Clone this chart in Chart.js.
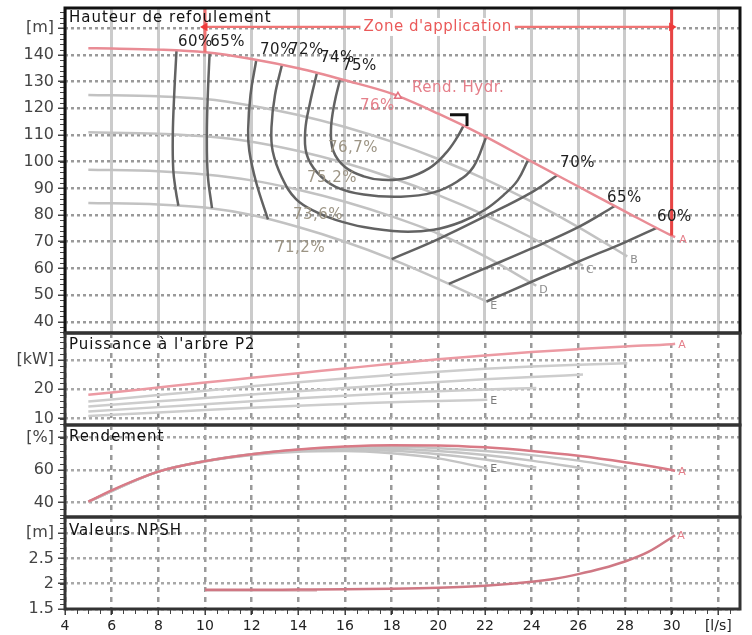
<!DOCTYPE html>
<html><head><meta charset="utf-8">
<script src="https://cdn.jsdelivr.net/npm/chart.js@4.4.0/dist/chart.umd.min.js"></script>
<style>
html,body{margin:0;padding:0;background:#fff;}
#wrap{position:relative;width:752px;height:635px;overflow:hidden;background:#fff;}
canvas{position:absolute;left:0;}
</style></head><body>
<div id="wrap">
<canvas id="c1" width="752" height="340" style="top:0px"></canvas>
<canvas id="c2" width="752" height="108" style="top:325px"></canvas>
<canvas id="c3" width="752" height="108" style="top:417px"></canvas>
<canvas id="c4" width="752" height="126" style="top:509px"></canvas>
</div>
<script>
// ---------- shared x axis (flow, l/s) ----------
const X_TICKS = [4,6,8,10,12,14,16,18,20,22,24,26,28,30,32];
const X_TICK_LABELS = ['4','6','8','10','12','14','16','18','20','22','24','26','28','30','[l/s]'];

// ---------- head curves (m) ----------
const Q_A = [5,6,8,10,12,14,16,18,20,22,24,26,28,30,30.15];
const H_A = [142.5,142.4,142,141,138.5,135,130.5,125.5,118,109.5,100,90.7,81.4,72.3,71.7];
const Q_B = [5,8,10,12,14,16,18,20,22,24,26,28.1];
const H_B = [125,124.5,123.5,121,117.5,113,107.5,101,93.5,85,75.5,64.5];
const Q_C = [5,8,10,12,14,16,18,20,22,24,26.2];
const H_C = [111,110.5,109.5,107.5,104,99.5,94,87.5,80,71.5,61];
const Q_D = [5,8,10,12,14,16,18,20,22,24.2];
const H_D = [97,96.4,95.2,93,89.5,85,79.5,73,64.5,53.5];
const Q_E = [5,8,10,12,14,16,18,20,22.1];
const H_E = [84.5,84,82.8,80,75.5,70,63.5,56,47.5];

// ---------- iso-efficiency curves ----------
const Q_ISO60_L = [8.78,8.68,8.62,8.64,8.75,8.86];
const H_ISO60_L = [141.8,125,110,97,89,83.5];
const Q_ISO60_R = [22.07,24,26,28,29.36];
const H_ISO60_R = [47.6,55,62.5,69.8,75.2];
const Q_ISO65_L = [10.2,10.12,10.08,10.12,10.3];
const H_ISO65_L = [141,125,110,95,82.6];
const Q_ISO65_R = [20.45,22,24,26,27.55];
const H_ISO65_R = [54.2,60,67.5,75.5,83.3];
const Q_ISO70_L = [12.2,11.95,11.85,11.9,12.2,12.7];
const H_ISO70_L = [138.2,125,112,104,92,78.4];
const Q_ISO70_R = [18,20,22,24,25.1];
const H_ISO70_R = [63.5,71,79.5,88.5,94.9];
const Q_ISO72 = [13.3,13.0,12.85,12.9,13.3,13.9,14.8,15.6,16.8,18.4,19.8,21,22,22.8,23.4,23.85];
const H_ISO72 = [136.3,125,113,104,94,86,81,78.2,75.5,73.8,74.5,77.5,82,87.5,93,100.7];
const Q_ISO74 = [14.8,14.5,14.3,14.35,14.8,15.6,16.8,18.4,19.8,20.8,21.5,22.05];
const H_ISO74 = [133.3,122,112,103,96,90.6,87.7,86.9,88.5,92.5,98,109.2];
const Q_ISO75 = [15.8,15.55,15.4,15.5,16,16.8,17.6,18.6,19.6,20.3,20.8,21.1];
const H_ISO75 = [131.2,122,112,104,98,94.5,93.2,93.8,97.5,103,109,113.8];

// duty point bracket, BEP, application zone
const Q_DUTY = [20.5,21.23,21.23];
const H_DUTY = [117.6,117.6,113.4];
const Q_BEP = [18.27];
const H_BEP = [124.5];
const Q_ZONE = [10,30];
const H_ZONE = [150.5,150.5];
const Q_ZONE_L = [10,10];
const H_ZONE_L = [157.6,141];
const Q_ZONE_R = [30,30];
const H_ZONE_R = [157.6,72.3];

// ---------- shaft power (kW) ----------
const P_A = [18.1,18.9,20.6,22.3,23.9,25.5,27.1,28.7,30.2,31.5,32.7,33.7,34.6,35.4,35.5];
const P_B = [15.8,18.0,19.5,21,22.4,23.7,24.9,26,27,27.8,28.4,28.9];
const P_C = [14.1,15.9,17,18.2,19.3,20.4,21.5,22.5,23.4,24.2,25];
const P_D = [12.4,13.9,14.9,15.9,16.9,17.8,18.6,19.3,19.9,20.4];
const P_E = [10.9,12.1,12.9,13.7,14.4,15,15.6,16,16.4];

// ---------- efficiency (%) ----------
const ETA_A = [40.5,47.5,59,65.5,69.8,72.7,74.5,75.3,75.2,74,71.8,68.8,64.8,60,59.5];
const ETA_B = [40.5,59,65.5,69.8,72.5,74,74.3,73.5,71.8,69.2,65.8,60.8];
const ETA_C = [40.5,59,65.5,69.7,72.2,73.4,73.2,71.8,69.3,65.8,61];
const ETA_D = [40.5,59,65.4,69.5,71.8,72.6,71.9,69.8,66.5,61.5];
const ETA_E = [40.5,59,65.3,69.2,71.3,71.7,70.3,67.2,61];

// ---------- NPSH (m) ----------
const Q_NPSH_A = [10,12,14,16,18,20,22,24,25,26,27,28,29,30.15];
const NPSH_A = [1.88,1.88,1.885,1.89,1.9,1.92,1.96,2.04,2.1,2.19,2.3,2.44,2.63,2.96];
const Q_NPSH_G = [10,12,14.8];
const NPSH_G = [1.865,1.865,1.868];

// ---------- y ticks ----------
const H_TICKS = [40,50,60,70,80,90,100,110,120,130,140,150];
const H_TICK_LABELS = ['40','50','60','70','80','90','100','110','120','130','140','[m]'];
const P_TICKS = [10,20,30];
const P_TICK_LABELS = ['10','20','[kW]'];
const ETA_TICKS = [40,60,80];
const ETA_TICK_LABELS = ['40','60','[%]'];
const N_TICKS = [1.5,2,2.5,3];
const N_TICK_LABELS = ['1.5','2','2.5','[m]'];

// ---------- text annotations ----------
const ISO_LABELS = ['60%','65%','70%','72%','74%','75%','70%','65%','60%'];
const ISO_LABEL_Q = [8.84,10.22,12.36,13.6,14.93,15.87,25.22,27.23,29.37];
const ISO_LABEL_H = [144.9,144.9,141.9,141.9,138.9,135.9,99.5,86.4,79.3];
const CURVE_LABELS = ['76,7%','75,2%','73,6%','71,2%'];
const CURVE_LABEL_Q = [15.27,14.37,13.77,13.0];
const CURVE_LABEL_H = [105.1,93.9,80,67.6];

Chart.defaults.font.family = 'DejaVu Sans';

function pts(q, v){ return q.map((x,i)=>({x:x, y:v[i]})); }
function ln(q, v, color, width, extra){
  return Object.assign({data: pts(q,v), borderColor: color, borderWidth: width,
    pointRadius: 0, fill: false, tension: 0.4}, extra || {});
}
function mono(q, v, color, width){ return ln(q, v, color, width, {cubicInterpolationMode:'monotone'}); }

const deco = {
  id: 'deco',
  afterDraw(chart, args, o){
    const ctx = chart.ctx, a = chart.chartArea, xs = chart.scales.x, ys = chart.scales.y;
    ctx.save();
    ctx.strokeStyle = '#444'; ctx.lineWidth = 1;
    if (o.yMinor){
      const n0 = Math.ceil(ys.min / o.yMinor - 1e-9), n1 = Math.floor(ys.max / o.yMinor + 1e-9);
      for (let n = n0; n <= n1; n++){
        const y = Math.round(ys.getPixelForValue(n * o.yMinor)) + 0.5;
        ctx.beginPath(); ctx.moveTo(a.left - 5, y); ctx.lineTo(a.left, y); ctx.stroke();
      }
    }
    if (o.xMinor){
      const n0 = Math.ceil(xs.min / o.xMinor - 1e-9), n1 = Math.floor(xs.max / o.xMinor + 1e-9);
      for (let n = n0; n <= n1; n++){
        const x = Math.round(xs.getPixelForValue(n * o.xMinor)) + 0.5;
        ctx.beginPath(); ctx.moveTo(x, a.bottom); ctx.lineTo(x, a.bottom + 5); ctx.stroke();
      }
    }
    (o.labels || []).forEach(l => {
      ctx.font = l.font || '15px "DejaVu Sans"';
      try { ctx.letterSpacing = l.ls || '0.5px'; } catch(e) {}
      ctx.textAlign = l.align || 'left'; ctx.textBaseline = 'middle';
      const x = xs.getPixelForValue(l.q) + (l.dx || 0), y = ys.getPixelForValue(l.v) + (l.dy || 0);
      if (l.bg){
        const w = ctx.measureText(l.text).width;
        ctx.fillStyle = l.bg;
        const x0 = l.align === 'center' ? x - w/2 : x;
        ctx.fillRect(x0 - 3, y - 9, w + 6, 18);
      }
      ctx.fillStyle = l.color;
      ctx.fillText(l.text, x, y);
    });
    if (o.title){
      ctx.font = '15px "DejaVu Sans"';
      try { ctx.letterSpacing = '1px'; } catch(e) {}
      ctx.fillStyle = '#111'; ctx.textAlign = 'left'; ctx.textBaseline = 'middle';
      ctx.fillText(o.title, a.left + 4, a.top + o.titleDy);
    }
    try { ctx.letterSpacing = '0px'; } catch(e) {}
    ctx.strokeStyle = o.frame; ctx.lineWidth = 3;
    ctx.strokeRect(a.left, a.top, a.right - a.left, a.bottom - a.top);
    ctx.restore();
  }
};

function xScale(showLabels, mainGrid){
  return {
    type: 'linear', min: 4, max: 32.93,
    afterBuildTicks: s => { s.ticks = X_TICKS.map(v => ({value: v})); },
    afterFit: s => { s.height = showLabels ? 26 : 0; s.paddingLeft = 0; s.paddingRight = 0; },
    ticks: { display: showLabels, autoSkip: false, maxRotation: 0, padding: 3,
      font: {size: 14}, color: '#222',
      callback: (v, i) => X_TICK_LABELS[X_TICKS.indexOf(v)] },
    grid: mainGrid
      ? { color: '#cbcbcb', lineWidth: 3, drawTicks: false }
      : { color: '#9a9a9a', lineWidth: 2.5, drawTicks: showLabels, tickLength: 6, tickColor: '#333', tickWidth: 1.5, tickBorderDash: [] },
    border: { display: false, dash: mainGrid ? [] : [5,5] }
  };
}
function yScale(min, max, ticks, labels, dashColor){
  return {
    type: 'linear', min: min, max: max,
    afterBuildTicks: s => { s.ticks = ticks.map(v => ({value: v})); },
    afterFit: s => { s.width = 65; s.paddingTop = 0; s.paddingBottom = 0; },
    ticks: { font: {size: 16}, color: '#444', padding: 4, autoSkip: false,
      callback: v => labels[ticks.indexOf(v)] },
    grid: { color: dashColor, lineWidth: 2.5, tickLength: 7, tickColor: '#444', tickWidth: 1.5, tickBorderDash: [] },
    border: { display: false, dash: [3,3] }
  };
}
function opts(padTop, padBottom, xs, ys, decoOpts){
  return {
    responsive: false, animation: false, devicePixelRatio: 1,
    layout: { padding: { left: 0, right: 12, top: padTop, bottom: padBottom } },
    plugins: { legend: {display: false}, tooltip: {enabled: false}, deco: decoOpts },
    scales: { x: xs, y: ys }
  };
}

const RED = '#e98c95', GRAY = '#c2c2c2', ISO = '#626262';

// ---------- chart 1: head ----------
const isoLabels = ISO_LABELS.map((t,i) => ({text: t, q: ISO_LABEL_Q[i], v: ISO_LABEL_H[i], color: '#1e1e1e'}));
const curveLabels = CURVE_LABELS.map((t,i) => ({text: t, q: CURVE_LABEL_Q[i], v: CURVE_LABEL_H[i], color: '#9c9484'}));
new Chart(document.getElementById('c1'), {
  type: 'line',
  data: { datasets: [
    ln(Q_ZONE, H_ZONE, '#f07474', 2.2, {pointRadius: [5,5], pointStyle: 'triangle', pointRotation: [270,90], pointBackgroundColor: '#ee3a3a', pointBorderWidth: 0, tension: 0}),
    ln(Q_ZONE_L, H_ZONE_L, '#f07070', 3, {tension: 0}),
    ln(Q_ZONE_R, H_ZONE_R, '#e84444', 3, {tension: 0}),
    ln(Q_DUTY, H_DUTY, '#111', 3, {tension: 0}),
    ln(Q_BEP, H_BEP, '#e2707e', 1.5, {pointRadius: 4, pointStyle: 'triangle', pointBackgroundColor: '#fff', pointBorderColor: '#e2707e', pointBorderWidth: 1.5, showLine: false}),
    mono(Q_A, H_A, RED, 2.5),
    ln(Q_ISO75, H_ISO75, ISO, 2.5),
    ln(Q_ISO74, H_ISO74, ISO, 2.5),
    ln(Q_ISO72, H_ISO72, ISO, 2.5),
    ln(Q_ISO70_L, H_ISO70_L, ISO, 2.5),
    ln(Q_ISO70_R, H_ISO70_R, ISO, 2.5),
    ln(Q_ISO65_L, H_ISO65_L, ISO, 2.5),
    ln(Q_ISO65_R, H_ISO65_R, ISO, 2.5),
    ln(Q_ISO60_L, H_ISO60_L, ISO, 2.5),
    ln(Q_ISO60_R, H_ISO60_R, ISO, 2.5),
    mono(Q_B, H_B, GRAY, 2.5),
    mono(Q_C, H_C, GRAY, 2.5),
    mono(Q_D, H_D, GRAY, 2.5),
    mono(Q_E, H_E, GRAY, 2.5)
  ]},
  options: opts(8, 7, xScale(false, true), yScale(35.8, 157.6, H_TICKS, H_TICK_LABELS, '#9a9a9a'), {
    title: 'Hauteur de refoulement', titleDy: 10, frame: '#111', yMinor: 2,
    labels: [
      {text: "Zone d'application", q: 19.97, v: 150.5, color: '#ea5a5a', align: 'center', bg: '#fff'},
      {text: 'Rend. Hydr.', q: 18.87, v: 127.6, color: '#e57f8a'},
      {text: '76%', q: 16.64, v: 120.9, color: '#e57f8a'},
      {text: 'A', q: Q_A[Q_A.length-1], v: H_A[H_A.length-1], color: '#e57f8a', font: '11px "DejaVu Sans"', dx: 4, dy: 3},
      {text: 'B', q: Q_B[Q_B.length-1], v: H_B[H_B.length-1], color: '#8c8c8c', font: '11px "DejaVu Sans"', dx: 3, dy: 4},
      {text: 'C', q: Q_C[Q_C.length-1], v: H_C[H_C.length-1], color: '#8c8c8c', font: '11px "DejaVu Sans"', dx: 3, dy: 4},
      {text: 'D', q: Q_D[Q_D.length-1], v: H_D[H_D.length-1], color: '#8c8c8c', font: '11px "DejaVu Sans"', dx: 3, dy: 4},
      {text: 'E', q: Q_E[Q_E.length-1], v: H_E[H_E.length-1], color: '#8c8c8c', font: '11px "DejaVu Sans"', dx: 3, dy: 4}
    ].concat(isoLabels, curveLabels)
  }),
  plugins: [deco]
});

// ---------- chart 2: power ----------
new Chart(document.getElementById('c2'), {
  type: 'line',
  data: { datasets: [
    mono(Q_A, P_A, '#ec9aa3', 2.5),
    mono(Q_B, P_B, '#cdcdcd', 2.5),
    mono(Q_C, P_C, '#cdcdcd', 2.5),
    mono(Q_D, P_D, '#cdcdcd', 2.5),
    mono(Q_E, P_E, '#cdcdcd', 2.5)
  ]},
  options: opts(8, 8, xScale(false, false), yScale(7.8, 39.2, P_TICKS, P_TICK_LABELS, '#a8a8a8'), {
    title: "Puissance à l'arbre P2", titleDy: 12, frame: '#333', yMinor: 2,
    labels: [
      {text: 'A', q: Q_A[Q_A.length-1], v: P_A[P_A.length-1], color: '#e57f8a', font: '11px "DejaVu Sans"', dx: 3, dy: 1},
      {text: 'E', q: Q_E[Q_E.length-1], v: P_E[P_E.length-1], color: '#7c7c7c', font: '11px "DejaVu Sans"', dx: 3, dy: 1}
    ]
  }),
  plugins: [deco]
});

// ---------- chart 3: efficiency ----------
new Chart(document.getElementById('c3'), {
  type: 'line',
  data: { datasets: [
    mono(Q_A, ETA_A, '#d97a86', 2.5),
    mono(Q_B, ETA_B, '#c4c4c4', 2.5),
    mono(Q_C, ETA_C, '#c4c4c4', 2.5),
    mono(Q_D, ETA_D, '#c4c4c4', 2.5),
    mono(Q_E, ETA_E, '#c4c4c4', 2.5)
  ]},
  options: opts(8, 8, xScale(false, false), yScale(31, 87.8, ETA_TICKS, ETA_TICK_LABELS, '#a8a8a8'), {
    title: 'Rendement', titleDy: 12, frame: '#333', yMinor: 4,
    labels: [
      {text: 'A', q: Q_A[Q_A.length-1], v: ETA_A[ETA_A.length-1], color: '#e57f8a', font: '11px "DejaVu Sans"', dx: 3, dy: 1},
      {text: 'E', q: Q_E[Q_E.length-1], v: ETA_E[ETA_E.length-1], color: '#7c7c7c', font: '11px "DejaVu Sans"', dx: 3, dy: 1}
    ]
  }),
  plugins: [deco]
});

// ---------- chart 4: NPSH ----------
new Chart(document.getElementById('c4'), {
  type: 'line',
  data: { datasets: [
    mono(Q_NPSH_A, NPSH_A, '#cf7884', 2.5),
    mono(Q_NPSH_G, NPSH_G, '#dcbcc0', 2.5)
  ]},
  options: opts(8, 0, xScale(true, false), yScale(1.5, 3.32, N_TICKS, N_TICK_LABELS, '#a8a8a8'), {
    title: 'Valeurs NPSH', titleDy: 14, frame: '#333', yMinor: 0.1, xMinor: 0.5,
    labels: [
      {text: 'A', q: Q_NPSH_A[Q_NPSH_A.length-1], v: NPSH_A[NPSH_A.length-1], color: '#e57f8a', font: '11px "DejaVu Sans"', dx: 2, dy: 1}
    ]
  }),
  plugins: [deco]
});
</script>
</body></html>
